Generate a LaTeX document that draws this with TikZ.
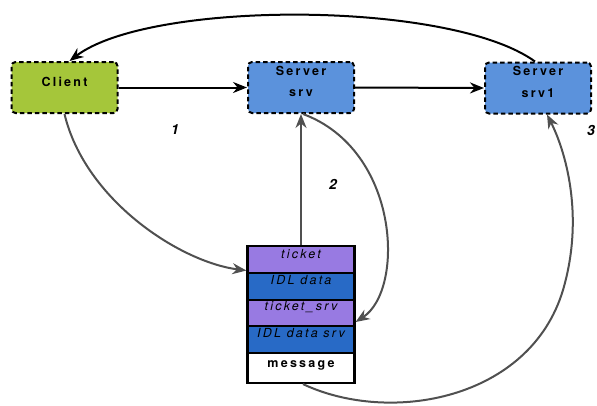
\documentclass[tikz,border=0pt]{standalone}
\usepackage{fontspec}
\setmainfont{TeX Gyre Heros}
\newfontfamily\spacedfont[LetterSpace=18]{TeX Gyre Heros}
\usetikzlibrary{arrows.meta}
\definecolor{clientgreen}{RGB}{165,198,58}
\definecolor{serverblue}{RGB}{91,146,220}
\definecolor{ticketpurple}{RGB}{152,122,226}
\definecolor{idlblue}{RGB}{40,106,198}
\definecolor{linkgray}{RGB}{80,80,80}
\tikzset{
  hostbox/.style={draw=black, line width=2pt, dash pattern=on 4.5pt off 3pt,
    rounded corners=4pt, minimum width=106pt, minimum height=51pt, inner sep=0pt},
  hosttext/.style={font={\fontsize{12.5}{14}\spacedfont\bfseries}, inner sep=0pt},
  cell/.style={draw=black, line width=1.4pt, minimum width=107pt, inner sep=0pt},
  celltext/.style={font={\fontsize{12.5}{14}\spacedfont\itshape}, inner sep=0pt},
  blackarrow/.style={draw=black, line width=2pt, -{Stealth[length=14pt,width=11pt]}},
  grayarrow/.style={draw=linkgray, line width=2pt, -{Stealth[length=14pt,width=11pt]}},
  steplabel/.style={font={\fontsize{14}{16}\selectfont\bfseries\itshape}, inner sep=0pt}
}
\begin{document}
\begin{tikzpicture}[x=1pt,y=-1pt]
\useasboundingbox (0,0) rectangle (597,405);
\clip (0,0) rectangle (597,405);

% hosts
\node[hostbox, fill=clientgreen] (client) at (64.5,87.5) {};
\node[hosttext] (clientlbl) at (64.5,82) {Client};
\node[hostbox, fill=serverblue] (srv) at (301,87.5) {};
\node[hosttext] (srvlbl1) at (301,71) {Server};
\node[hosttext] (srvlbl2) at (301,93) {srv};
\node[hostbox, fill=serverblue] (srv1) at (538,88) {};
\node[hosttext] (srvilbl1) at (538,71) {Server};
\node[hosttext] (srvilbl2) at (538,93) {srv1};

% message stack
\node[cell, fill=ticketpurple, minimum height=27pt] (ticket) at (301,259.5) {};
\node[cell, fill=idlblue, minimum height=27pt] (idl) at (301,286.5) {};
\node[cell, fill=ticketpurple, minimum height=26pt] (ticketsrv) at (301,313) {};
\node[cell, fill=idlblue, minimum height=27pt] (idlsrv) at (301,339.5) {};
\node[cell, fill=white, minimum height=30pt] (message) at (301,368) {};
\node[draw=black, line width=2.2pt, minimum width=107pt, minimum height=137pt, inner sep=0pt] (stack) at (301,314.5) {};
\node[celltext] (ticketlbl) at (301,254) {ticket};
\node[celltext] (idllbl) at (301,280) {IDL data};
\node[celltext] (ticketsrvlbl) at (301,307) {ticket\_srv};
\node[celltext] (idlsrvlbl) at (301,333) {IDL data srv};
\node[hosttext] (messagelbl) at (301,365) {message};

% connectors
\draw[blackarrow] (client.east) -- (srv.west);
\draw[blackarrow] (srv.east) -- (srv1.west);
\draw[blackarrow] ([xshift=-3pt]srv1.north) .. controls (450,0) and (150,0) .. ([xshift=5pt]client.north);
\draw[grayarrow] (client.south) .. controls (85,200) and (180,262) .. ([yshift=44pt]stack.west);
\draw[grayarrow] (stack.north) -- (srv.south);
\draw[grayarrow] ([xshift=2pt]srv.south) .. controls (400,150) and (405,290) .. ([yshift=-7.5pt]stack.east);
\draw[grayarrow] ([xshift=2pt]stack.south) .. controls (390,425) and (530,400) .. (563,290)
  .. controls (585,215) and (565,150) .. ([xshift=9pt]srv1.south);

% step numbers
\node[steplabel] (one) at (175,130) {1};
\node[steplabel] (two) at (333,184) {2};
\node[steplabel] (three) at (591,130) {3};
\end{tikzpicture}
\end{document}
